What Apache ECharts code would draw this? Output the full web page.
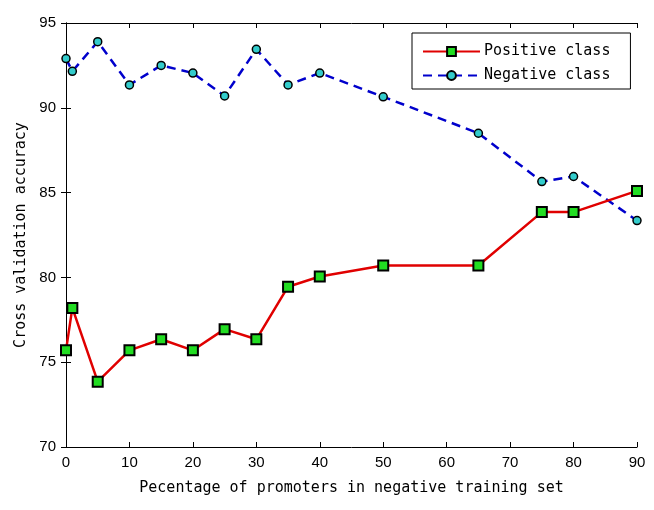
<!DOCTYPE html>
<html>
<head>
<meta charset="utf-8">
<script src="https://cdn.jsdelivr.net/npm/echarts@6/dist/echarts.min.js"></script>
<style>
  html, body { margin: 0; padding: 0; background: #fff; }
  #main { width: 654px; height: 510px; }
</style>
</head>
<body>
<div id="main"></div>
<script>
const xValues = [0, 1, 5, 10, 15, 20, 25, 30, 35, 40, 50, 65, 75, 80, 90];
const positiveClass = [75.7, 78.2, 73.85, 75.7, 76.35, 75.7, 76.95, 76.35, 79.45, 80.05, 80.7, 80.7, 83.85, 83.85, 85.1];
const negativeClass = [92.9, 92.15, 93.9, 91.35, 92.5, 92.05, 90.7, 93.45, 91.35, 92.05, 90.65, 88.5, 85.65, 85.95, 83.35];
const xTicks = [0, 10, 20, 30, 40, 50, 60, 70, 80, 90];
const yTicks = [70, 75, 80, 85, 90, 95];

const pairs = (ys) => xValues.map((x, i) => [x, ys[i]]);

const chart = echarts.init(document.getElementById('main'));

const tickFont = { color: '#000', fontFamily: 'Liberation Sans', fontSize: 15 };
const monoFont = 'DejaVu Sans Mono';

const axisBase = {
  axisLine: { show: true, lineStyle: { color: '#000', width: 1 } },
  axisTick: { show: true, inside: true, length: 5, lineStyle: { color: '#000' } },
  splitLine: { show: false },
};

chart.setOption({
  animation: false,
  backgroundColor: '#fff',
  grid: { left: 66, right: 17, top: 23, bottom: 63 },
  legend: {
    orient: 'vertical',
    left: 412,
    top: 33,
    padding: [11, 20, 6, 10],
    itemGap: 9,
    itemWidth: 57,
    itemHeight: 11,
    borderColor: '#000',
    borderWidth: 1,
    backgroundColor: '#fff',
    textStyle: { fontFamily: monoFont, fontSize: 15, color: '#000', padding: [0, 0, 0, -1] },
    data: ['Positive class', 'Negative class'],
  },
  xAxis: [
    Object.assign({}, axisBase, {
      type: 'value',
      min: xTicks[0],
      max: xTicks[xTicks.length - 1],
      interval: 10,
      axisLabel: Object.assign({ margin: 8 }, tickFont),
      name: 'Pecentage of promoters in negative training set',
      nameLocation: 'middle',
      nameGap: 34,
      nameTextStyle: { fontFamily: monoFont, fontSize: 15, color: '#000' },
    }),
    Object.assign({}, axisBase, {
      type: 'value',
      position: 'top',
      min: xTicks[0],
      max: xTicks[xTicks.length - 1],
      interval: 10,
      axisLabel: { show: false },
    }),
  ],
  yAxis: [
    Object.assign({}, axisBase, {
      type: 'value',
      min: yTicks[0],
      max: yTicks[yTicks.length - 1],
      interval: 5,
      axisLabel: Object.assign({ margin: 10 }, tickFont),
      name: 'Cross validation accuracy',
      nameLocation: 'middle',
      nameGap: 30,
      nameTextStyle: { fontFamily: monoFont, fontSize: 15, color: '#000' },
    }),
    Object.assign({}, axisBase, {
      type: 'value',
      position: 'right',
      min: yTicks[0],
      max: yTicks[yTicks.length - 1],
      interval: 5,
      axisLabel: { show: false },
    }),
  ],
  series: [
    {
      name: 'Positive class',
      type: 'line',
      data: pairs(positiveClass),
      symbol: 'rect',
      symbolSize: 10,
      lineStyle: { color: '#e00000', width: 2.5 },
      itemStyle: { color: '#22dd22', borderColor: '#000', borderWidth: 2 },
      z: 3,
    },
    {
      name: 'Negative class',
      type: 'line',
      data: pairs(negativeClass),
      symbol: 'circle',
      symbolSize: 8,
      lineStyle: { color: '#0000cc', width: 2.5, type: [9, 6] },
      itemStyle: { color: '#33cccc', borderColor: '#000', borderWidth: 1.5 },
      z: 2,
    },
  ],
});
</script>
</body>
</html>
